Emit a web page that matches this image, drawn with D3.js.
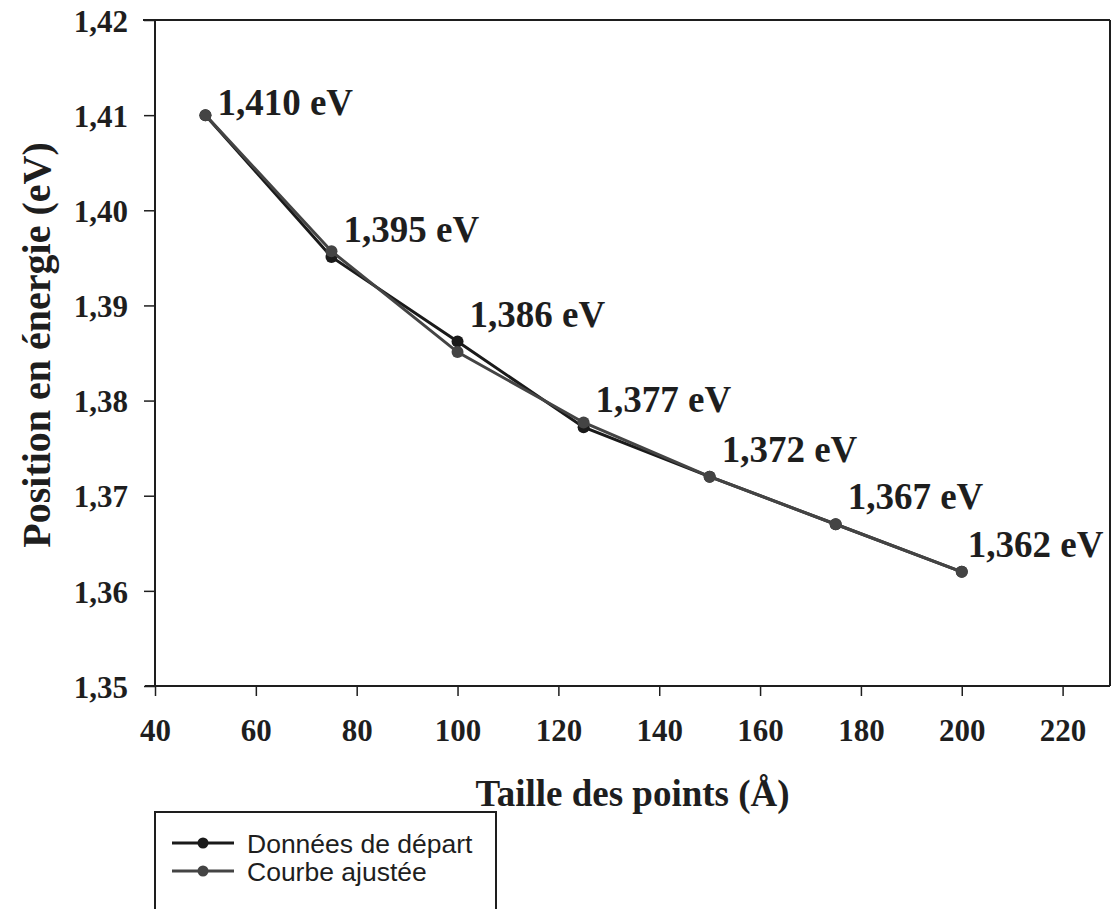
<!DOCTYPE html>
<html>
<head>
<meta charset="utf-8">
<script src="https://cdn.jsdelivr.net/npm/d3@7"></script>
<style>
  html, body { margin: 0; padding: 0; background: #fff; }
  svg { display: block; }
</style>
</head>
<body>
<svg id="chart" width="1111" height="909"></svg>
<script>
// Dot size (Å) and measured emission energy (eV)
const sizes = [50, 75, 100, 125, 150, 175, 200];
const dataStart = [1.410, 1.3951, 1.3862, 1.3772, 1.372, 1.367, 1.362];
const fitted = [1.410, 1.3957, 1.3851, 1.3777, 1.372, 1.367, 1.362];
const pointLabels = ["1,410 eV", "1,395 eV", "1,386 eV", "1,377 eV", "1,372 eV", "1,367 eV", "1,362 eV"];

const xTicks = [40, 60, 80, 100, 120, 140, 160, 180, 200, 220];
const yTicks = [1.35, 1.36, 1.37, 1.38, 1.39, 1.40, 1.41, 1.42];
const yTickLabels = ["1,35", "1,36", "1,37", "1,38", "1,39", "1,40", "1,41", "1,42"];

const seriesNames = ["Données de départ", "Courbe ajustée"];
const seriesColors = ["#1a1a1a", "#444444"];

const svg = d3.select("#chart");
const plotL = 155, plotR = 1110, plotT = 20, plotB = 686;

const x = d3.scaleLinear().domain([40, 229.4]).range([plotL, plotR]);
const y = d3.scaleLinear().domain([1.35, 1.42]).range([plotB, plotT]);

const serif = "'Liberation Serif', 'Times New Roman', serif";
const sans = "'Liberation Sans', Arial, sans-serif";
const ink = "#1e1e1e";

// Y axis
const yAxis = d3.axisLeft(y).tickValues(yTicks).tickSize(11).tickPadding(16)
  .tickFormat((d, i) => yTickLabels[i]);
const gy = svg.append("g").attr("transform", `translate(${plotL},0)`).call(yAxis);
gy.select(".domain").remove();
gy.selectAll(".tick line").attr("stroke", ink).attr("stroke-width", 1.5);
gy.selectAll(".tick text").attr("font-family", serif).attr("font-weight", "bold")
  .attr("font-size", 31).attr("fill", ink).attr("dy", "0.36em");

// X axis
const xAxis = d3.axisBottom(x).tickValues(xTicks).tickSize(10).tickPadding(23);
const gx = svg.append("g").attr("transform", `translate(0,${plotB})`).call(xAxis);
gx.select(".domain").remove();
gx.selectAll(".tick line").attr("stroke", ink).attr("stroke-width", 1.5);
gx.selectAll(".tick text").attr("font-family", serif).attr("font-weight", "bold")
  .attr("font-size", 31).attr("fill", ink);

// Plot frame
const frame = svg.append("g").attr("stroke", ink).attr("fill", "none");
frame.append("line").attr("x1", plotL - 12).attr("x2", plotR).attr("y1", plotT).attr("y2", plotT).attr("stroke-width", 2);
frame.append("line").attr("x1", plotL).attr("x2", plotL).attr("y1", plotT).attr("y2", plotB).attr("stroke-width", 2);
frame.append("line").attr("x1", plotL - 10).attr("x2", plotR).attr("y1", plotB).attr("y2", plotB).attr("stroke-width", 2);
frame.append("line").attr("x1", plotR).attr("x2", plotR).attr("y1", plotT).attr("y2", plotB).attr("stroke-width", 2);

// Series
const series = [dataStart, fitted];
const line = d3.line().x((d, i) => x(sizes[i])).y(d => y(d));
series.forEach((vals, s) => {
  const g = svg.append("g");
  g.append("path").datum(vals).attr("d", line).attr("fill", "none")
    .attr("stroke", seriesColors[s]).attr("stroke-width", 3);
  g.selectAll("circle").data(vals).join("circle")
    .attr("cx", (d, i) => x(sizes[i])).attr("cy", d => y(d)).attr("r", 6)
    .attr("fill", seriesColors[s]);
});

// Value labels
svg.append("g").selectAll("text").data(pointLabels).join("text")
  .attr("x", (d, i) => x(sizes[i]) + (i === 6 ? 6 : 12))
  .attr("y", (d, i) => y(dataStart[i]) + (i === 0 ? 0 : -15))
  .attr("font-family", serif).attr("font-weight", "bold").attr("font-size", 37)
  .attr("fill", ink).text(d => d);

// Axis titles
svg.append("text").attr("x", (plotL + plotR) / 2).attr("y", 806).attr("text-anchor", "middle")
  .attr("font-family", serif).attr("font-weight", "bold").attr("font-size", 37)
  .attr("fill", ink).text("Taille des points (Å)");
svg.append("text").attr("transform", `translate(50,345) rotate(-90)`)
  .attr("text-anchor", "middle").attr("font-family", serif).attr("font-weight", "bold")
  .attr("font-size", 40).attr("fill", ink).text("Position en énergie (eV)");

// Legend
const lg = svg.append("g");
lg.append("rect").attr("x", 155).attr("y", 812).attr("width", 341).attr("height", 120)
  .attr("fill", "#fff").attr("stroke", ink).attr("stroke-width", 2);
seriesNames.forEach((name, s) => {
  const cy = 843 + s * 28;
  lg.append("line").attr("x1", 172).attr("x2", 234).attr("y1", cy).attr("y2", cy)
    .attr("stroke", seriesColors[s]).attr("stroke-width", 3);
  lg.append("circle").attr("cx", 203).attr("cy", cy).attr("r", 5.5).attr("fill", seriesColors[s]);
  lg.append("text").attr("x", 247).attr("y", cy + 10).attr("font-family", sans)
    .attr("font-size", 26.5).attr("fill", ink).text(name);
});
</script>
</body>
</html>
